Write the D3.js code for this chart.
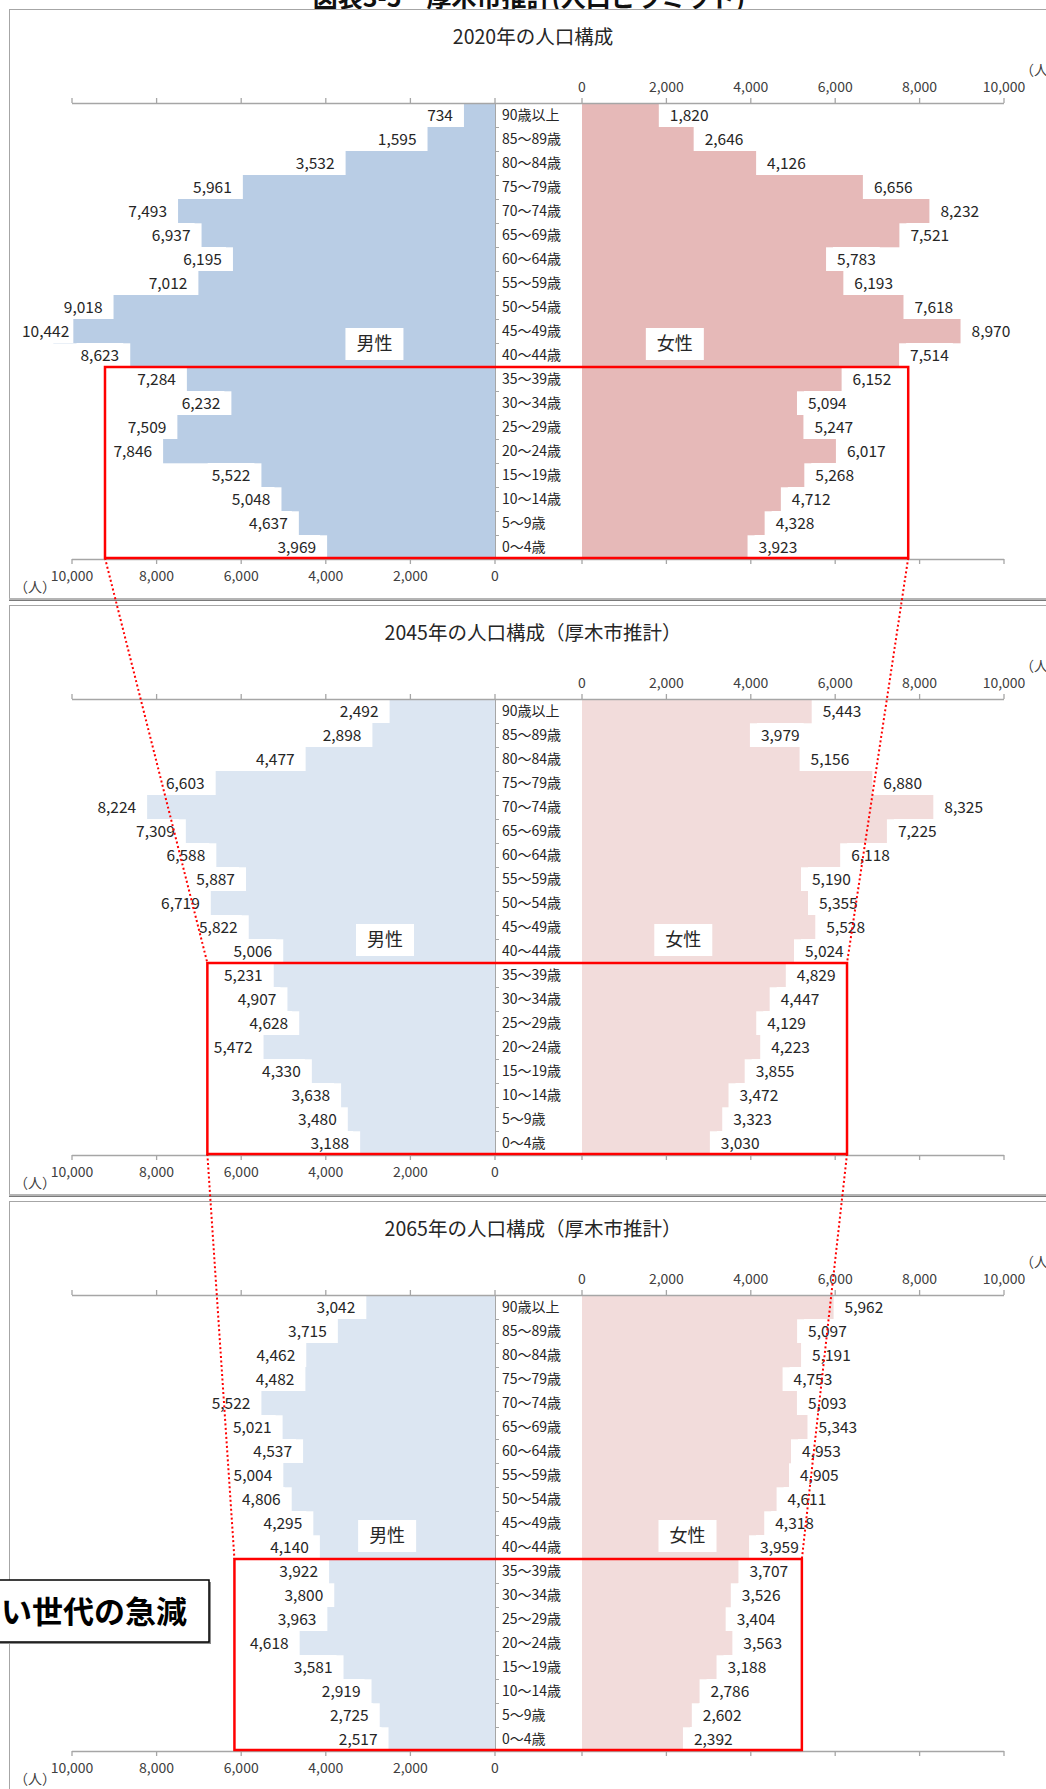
<!DOCTYPE html>
<html><head><meta charset="utf-8">
<script src="https://cdn.jsdelivr.net/npm/d3@7"></script>
<style>
html,body{margin:0;padding:0;background:#fff;overflow:hidden}
svg{display:block;font-family:"Noto Sans CJK JP","Noto Sans",sans-serif}
</style></head>
<body>
<script>
// ---- data ----
const categories = ["90歳以上","85～89歳","80～84歳","75～79歳","70～74歳","65～69歳","60～64歳","55～59歳","50～54歳","45～49歳","40～44歳","35～39歳","30～34歳","25～29歳","20～24歳","15～19歳","10～14歳","5～9歳","0～4歳"];
const panelTitles = ["2020年の人口構成","2045年の人口構成（厚木市推計）","2065年の人口構成（厚木市推計）"];
const male2020   = [734,1595,3532,5961,7493,6937,6195,7012,9018,10442,8623,7284,6232,7509,7846,5522,5048,4637,3969];
const female2020 = [1820,2646,4126,6656,8232,7521,5783,6193,7618,8970,7514,6152,5094,5247,6017,5268,4712,4328,3923];
const male2045   = [2492,2898,4477,6603,8224,7309,6588,5887,6719,5822,5006,5231,4907,4628,5472,4330,3638,3480,3188];
const female2045 = [5443,3979,5156,6880,8325,7225,6118,5190,5355,5528,5024,4829,4447,4129,4223,3855,3472,3323,3030];
const male2065   = [3042,3715,4462,4482,5522,5021,4537,5004,4806,4295,4140,3922,3800,3963,4618,3581,2919,2725,2517];
const female2065 = [5962,5097,5191,4753,5093,5343,4953,4905,4611,4318,3959,3707,3526,3404,3563,3188,2786,2602,2392];
const tickValues = [0,2000,4000,6000,8000,10000];
const maleColors = ["#b9cde5","#dce6f2","#dce6f2"];
const femaleColors = ["#e6b9b8","#f2dcdb","#f2dcdb"];
// highlight boxes: [male extent, female extent], first highlighted category
const highlightMale = [9220,6800,6160];
const highlightFemale = [7730,6280,5210];
const highlightFrom = "35～39歳";
const sexLabelPos = [[2850,2200],[2600,2400],[2550,2500]]; // value positions of 男性/女性
const calloutText = "若い世代の急減";
const pageTitle = "図表3-5　厚木市推計(人口ピラミッド)";

const males = [male2020, male2045, male2065];
const females = [female2020, female2045, female2065];

const W = 1046, H = 1789;
const panelTop = [9, 605, 1201];
const panelH = 596;

const svg = d3.select("body").append("svg").attr("width", W).attr("height", H);
const fmt = d3.format(",");

const xL = d3.scaleLinear().domain([0,10000]).range([495,72]);
const xR = d3.scaleLinear().domain([0,10000]).range([582,1004]);

// page title (cut at top)
svg.append("text").attr("x",529).attr("y",7).attr("text-anchor","middle")
  .attr("font-size",25).attr("font-weight","bold").attr("fill","#111").text(pageTitle);

const rects = [];

panelTop.forEach((top, p) => {
  const g = svg.append("g");
  // panel frame
  g.append("rect").attr("x",9.5).attr("y",top+0.5).attr("width",W).attr("height",panelH-6)
    .attr("fill","#fff").attr("stroke","#a6a6a6");
  g.append("rect").attr("x",9).attr("y",top+panelH-7).attr("width",W).attr("height",3).attr("fill","#b4b4b4");
  g.append("line").attr("x1",9).attr("x2",W).attr("y1",top+panelH-4.5).attr("y2",top+panelH-4.5).attr("stroke","#7a7a7a").attr("stroke-width",1);

  const y = d3.scaleBand().domain(categories).range([top+94, top+550]).paddingInner(0).paddingOuter(0);
  const bw = y.bandwidth();

  // title
  g.append("text").attr("x",533).attr("y",top+35).attr("text-anchor","middle")
    .attr("font-size",19.5).attr("fill","#262626").text(panelTitles[p]);
  // units
  g.append("text").attr("x",1020).attr("y",top+66).attr("font-size",14).attr("fill","#404040").text("（人）");
  g.append("text").attr("x",14).attr("y",top+583).attr("font-size",14).attr("fill","#404040").text("（人）");

  // bars
  const md = categories.map((c,i)=>({c, v: males[p][i]}));
  const fd = categories.map((c,i)=>({c, v: females[p][i]}));
  g.selectAll(".m").data(md).join("rect")
    .attr("x", d=>xL(d.v)).attr("y", d=>y(d.c)).attr("width", d=>xL(0)-xL(d.v)).attr("height", bw+0.3)
    .attr("fill", maleColors[p]);
  g.selectAll(".f").data(fd).join("rect")
    .attr("x", xR(0)).attr("y", d=>y(d.c)).attr("width", d=>xR(d.v)-xR(0)).attr("height", bw+0.3)
    .attr("fill", femaleColors[p]);

  // value labels with white boxes
  md.forEach(d => {
    const t = g.append("text").attr("font-size",15.5).attr("fill","#262626")
      .attr("y", y(d.c)+bw/2+5.5).text(fmt(d.v));
    const tw = t.node().getComputedTextLength();
    let right = xL(d.v) - 11;
    if (right - tw < 22) right = 22 + tw;
    t.attr("x", right - tw);
    g.insert("rect", () => t.node()).attr("x", right-tw-4).attr("y", y(d.c)).attr("width", tw+8).attr("height", bw).attr("fill","#fff");
  });
  fd.forEach(d => {
    const t = g.append("text").attr("font-size",15.5).attr("fill","#262626")
      .attr("y", y(d.c)+bw/2+5.5).text(fmt(d.v));
    const tw = t.node().getComputedTextLength();
    const left = xR(d.v) + 11;
    t.attr("x", left);
    g.insert("rect", () => t.node()).attr("x", left-4).attr("y", y(d.c)).attr("width", tw+8).attr("height", bw).attr("fill","#fff");
  });

  // category label area
  g.append("rect").attr("x",xL(0)).attr("y",top+94).attr("width",xR(0)-xL(0)).attr("height",456).attr("fill","#fff");
  g.selectAll(".cat").data(categories).join("text")
    .attr("x", 502).attr("y", d=>y(d)+bw/2+5).attr("font-size",14).attr("fill","#262626").text(d=>d);
  // vertical axis at male zero
  g.append("line").attr("x1",xL(0)+0.5).attr("x2",xL(0)+0.5).attr("y1",top+94).attr("y2",top+550).attr("stroke","#a6a6a6");
  g.selectAll(".vt").data(categories.slice(1)).join("line")
    .attr("x1",xL(0)).attr("x2",xL(0)+4).attr("y1",d=>y(d)+0.5).attr("y2",d=>y(d)+0.5).attr("stroke","#a6a6a6");

  // top & bottom axis lines
  [top+94, top+550].forEach((yy, k) => {
    g.append("line").attr("x1",xL(10000)).attr("x2",xR(10000)).attr("y1",yy+0.5).attr("y2",yy+0.5).attr("stroke","#a6a6a6").attr("stroke-width",1.3);
    const dir = k===0 ? -5 : 5;
    tickValues.forEach(v => {
      [xL(v), xR(v)].forEach(xx => {
        g.append("line").attr("x1",xx).attr("x2",xx).attr("y1",yy).attr("y2",yy+dir).attr("stroke","#a6a6a6").attr("stroke-width",1.3);
      });
    });
  });
  // tick labels: top-right and bottom-left
  g.selectAll(".tt").data(tickValues).join("text")
    .attr("x", d=>xR(d)).attr("y", top+83).attr("text-anchor","middle").attr("font-size",14).attr("fill","#404040").text(d=>fmt(d));
  g.selectAll(".bt").data(tickValues).join("text")
    .attr("x", d=>xL(d)).attr("y", top+572).attr("text-anchor","middle").attr("font-size",14).attr("fill","#404040").text(d=>fmt(d));

  // sex labels
  const [mv, fv] = sexLabelPos[p];
  [["男性", xL(mv)], ["女性", xR(fv)]].forEach(([txt, cx]) => {
    const cy = y("40～44歳");
    g.append("rect").attr("x", cx-29).attr("y", cy-15).attr("width",58).attr("height",32).attr("fill","#fff");
    g.append("text").attr("x",cx).attr("y",cy+7).attr("text-anchor","middle").attr("font-size",18).attr("fill","#262626").text(txt);
  });

  rects.push({x0: xL(highlightMale[p]), x1: xR(highlightFemale[p]), y0: y(highlightFrom), y1: top+549});
});

// red highlight rectangles
rects.forEach(r => {
  svg.append("rect").attr("x",r.x0).attr("y",r.y0).attr("width",r.x1-r.x0).attr("height",r.y1-r.y0)
    .attr("fill","none").attr("stroke","#ff0000").attr("stroke-width",2.5);
});
// dotted connectors
for (let i=0;i<rects.length-1;i++){
  const a = rects[i], b = rects[i+1];
  [[a.x0,a.y1,b.x0,b.y0],[a.x1,a.y1,b.x1,b.y0]].forEach(([x1,y1,x2,y2]) => {
    svg.append("line").attr("x1",x1).attr("y1",y1).attr("x2",x2).attr("y2",y2)
      .attr("stroke","#ff0000").attr("stroke-width",2).attr("stroke-dasharray","2,2.5");
  });
}

// callout
svg.append("rect").attr("x",-20).attr("y",1582).attr("width",231).attr("height",62).attr("fill","#8c8c8c");
svg.append("rect").attr("x",-20).attr("y",1580).attr("width",229).attr("height",62).attr("fill","#fff").attr("stroke","#000").attr("stroke-width",1.5);
svg.append("text").attr("x",187).attr("y",1623).attr("text-anchor","end").attr("font-size",31).attr("font-weight","bold").attr("fill","#000").text(calloutText);
</script>
</body></html>
